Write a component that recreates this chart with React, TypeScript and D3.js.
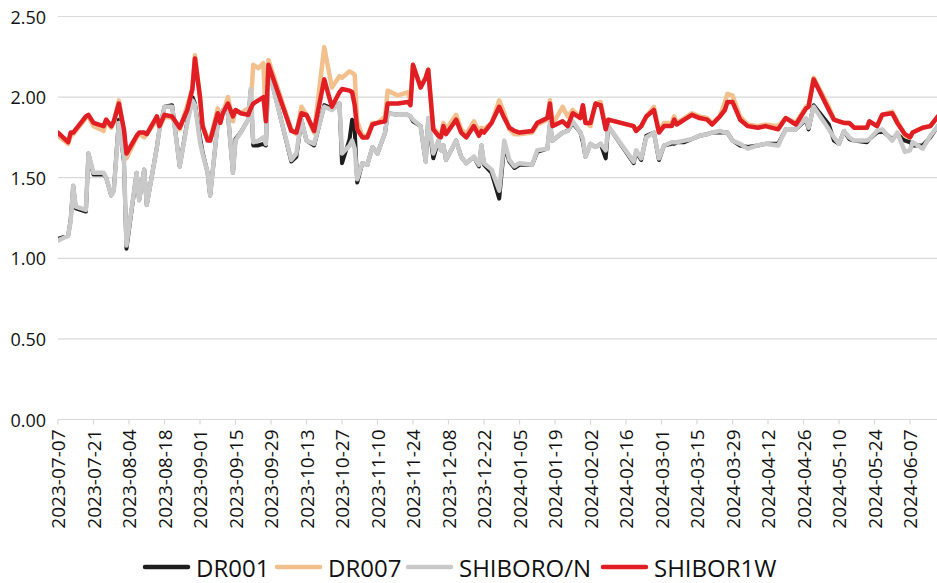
import React from 'react';
import * as d3 from 'd3';

const dates: string[] = [
  "2023-07-07","2023-07-11","2023-07-12","2023-07-13","2023-07-14","2023-07-18","2023-07-19","2023-07-21","2023-07-25","2023-07-26","2023-07-28","2023-07-29","2023-07-31",
  "2023-08-02","2023-08-03","2023-08-07","2023-08-08","2023-08-10","2023-08-11","2023-08-15","2023-08-16","2023-08-18","2023-08-21","2023-08-24","2023-08-27","2023-08-29","2023-08-30",
  "2023-09-01","2023-09-02","2023-09-04","2023-09-05","2023-09-08","2023-09-09","2023-09-10","2023-09-12","2023-09-14","2023-09-15","2023-09-17","2023-09-20","2023-09-21","2023-09-22","2023-09-24","2023-09-26","2023-09-27","2023-09-28",
  "2023-10-07","2023-10-09","2023-10-11","2023-10-13","2023-10-16","2023-10-20","2023-10-23","2023-10-26","2023-10-27","2023-10-30","2023-10-31",
  "2023-11-01","2023-11-02","2023-11-04","2023-11-06","2023-11-08","2023-11-10","2023-11-13","2023-11-14","2023-11-18","2023-11-22","2023-11-23","2023-11-24","2023-11-27","2023-11-29","2023-11-30",
  "2023-12-02","2023-12-04","2023-12-05","2023-12-06","2023-12-07","2023-12-11","2023-12-13","2023-12-15","2023-12-18","2023-12-20","2023-12-21","2023-12-22","2023-12-25","2023-12-28","2023-12-30",
  "2024-01-01","2024-01-03","2024-01-05","2024-01-10","2024-01-12","2024-01-16","2024-01-17","2024-01-18","2024-01-22","2024-01-24","2024-01-26","2024-01-29","2024-01-30","2024-01-31",
  "2024-02-02","2024-02-04","2024-02-06","2024-02-08","2024-02-09","2024-02-19","2024-02-20","2024-02-22","2024-02-24","2024-02-27","2024-02-29",
  "2024-03-02","2024-03-05","2024-03-06","2024-03-07","2024-03-10","2024-03-13","2024-03-16","2024-03-19","2024-03-21","2024-03-24","2024-03-26","2024-03-27","2024-03-29",
  "2024-04-01","2024-04-04","2024-04-08","2024-04-11","2024-04-16","2024-04-19","2024-04-23","2024-04-27","2024-04-28","2024-04-30",
  "2024-05-06","2024-05-08","2024-05-10","2024-05-12","2024-05-14","2024-05-16","2024-05-21","2024-05-22","2024-05-25","2024-05-27","2024-05-31",
  "2024-06-02","2024-06-05","2024-06-07","2024-06-08","2024-06-12","2024-06-15","2024-06-18"
];

const dr001: number[] = [
  1.12,1.14,1.24,1.45,1.31,1.29,1.65,1.52,1.52,1.50,1.39,1.42,1.86,
  1.60,1.06,1.53,1.36,1.55,1.33,1.69,1.80,1.94,1.95,1.57,1.85,2.00,1.96,
  1.75,1.66,1.53,1.39,1.84,1.86,1.92,1.90,1.53,1.74,1.78,1.86,2.04,1.70,1.70,1.71,1.70,2.18,
  1.60,1.63,1.86,1.73,1.70,1.95,1.93,1.96,1.59,1.74,1.86,
  1.80,1.47,1.59,1.58,1.69,1.65,1.78,1.90,1.89,1.89,1.88,1.85,1.82,1.60,1.86,
  1.62,1.73,1.67,1.70,1.61,1.73,1.63,1.59,1.63,1.57,1.70,1.58,1.53,1.37,1.70,
  1.60,1.56,1.58,1.58,1.66,1.68,1.83,1.73,1.78,1.79,1.84,1.78,1.72,1.63,
  1.71,1.69,1.71,1.62,1.82,1.59,1.66,1.61,1.76,1.78,1.61,
  1.70,1.71,1.71,1.72,1.72,1.74,1.76,1.77,1.78,1.78,1.78,1.78,1.73,
  1.70,1.69,1.70,1.71,1.71,1.80,1.80,1.86,1.80,1.95,
  1.83,1.73,1.71,1.79,1.74,1.73,1.72,1.74,1.78,1.79,1.74,
  1.77,1.73,1.72,1.70,1.70,1.75,1.82
];

const dr007: number[] = [
  1.76,1.71,1.76,1.77,1.79,1.87,1.88,1.82,1.79,1.85,1.81,1.84,1.98,
  1.78,1.62,1.75,1.77,1.75,1.77,1.86,1.81,1.88,1.87,1.80,1.95,2.05,2.26,
  2.00,1.83,1.74,1.73,1.93,1.84,1.90,2.00,1.85,1.92,1.90,1.93,1.95,2.20,2.18,2.21,1.85,2.23,
  1.80,1.77,1.94,1.89,1.78,2.31,2.06,2.13,2.12,2.16,2.15,
  2.14,1.85,1.76,1.76,1.84,1.84,1.88,2.04,2.01,2.03,1.98,2.20,2.06,2.12,2.17,
  1.81,1.77,1.77,1.84,1.80,1.89,1.80,1.77,1.85,1.79,1.81,1.80,1.84,1.98,1.90,
  1.80,1.77,1.77,1.78,1.83,1.86,1.98,1.83,1.94,1.88,1.92,1.87,1.95,1.85,
  1.82,1.96,1.97,1.81,1.86,1.82,1.79,1.82,1.88,1.94,1.79,
  1.84,1.84,1.88,1.84,1.87,1.90,1.88,1.87,1.84,1.88,1.97,2.02,2.01,
  1.88,1.83,1.82,1.83,1.82,1.87,1.84,1.94,1.95,2.12,
  1.94,1.86,1.85,1.84,1.84,1.81,1.81,1.85,1.82,1.89,1.91,
  1.85,1.76,1.75,1.78,1.81,1.82,1.88
];

const shiborON: number[] = [
  1.11,1.14,1.23,1.45,1.32,1.30,1.65,1.53,1.53,1.50,1.39,1.42,1.84,
  1.62,1.08,1.53,1.36,1.55,1.33,1.69,1.80,1.94,1.94,1.57,1.84,1.98,1.95,
  1.72,1.65,1.53,1.39,1.84,1.86,1.92,1.90,1.53,1.73,1.78,1.86,2.05,1.72,1.73,1.75,1.71,2.17,
  1.61,1.65,1.86,1.73,1.71,1.94,1.92,1.96,1.65,1.70,1.73,
  1.68,1.49,1.59,1.58,1.69,1.65,1.78,1.90,1.89,1.89,1.88,1.86,1.82,1.60,1.87,
  1.65,1.73,1.67,1.70,1.61,1.73,1.63,1.59,1.63,1.58,1.70,1.59,1.55,1.42,1.73,
  1.61,1.57,1.59,1.58,1.67,1.68,1.84,1.73,1.78,1.79,1.85,1.78,1.74,1.63,
  1.71,1.69,1.71,1.67,1.82,1.60,1.67,1.62,1.75,1.78,1.62,
  1.70,1.72,1.72,1.72,1.73,1.74,1.76,1.77,1.78,1.79,1.78,1.78,1.73,
  1.71,1.68,1.70,1.71,1.70,1.80,1.80,1.87,1.81,1.94,
  1.80,1.75,1.71,1.79,1.75,1.73,1.73,1.74,1.79,1.80,1.73,
  1.78,1.66,1.67,1.72,1.68,1.76,1.82
];

const shibor1W: number[] = [
  1.78,1.72,1.78,1.78,1.80,1.88,1.89,1.84,1.82,1.86,1.82,1.85,1.96,
  1.80,1.65,1.76,1.78,1.78,1.77,1.88,1.82,1.89,1.88,1.81,1.92,2.05,2.24,
  2.00,1.82,1.73,1.73,1.90,1.84,1.90,1.96,1.88,1.92,1.90,1.89,1.93,1.96,1.98,2.00,1.85,2.20,
  1.79,1.78,1.90,1.89,1.79,2.11,1.94,2.03,2.05,2.04,2.03,
  1.95,1.80,1.75,1.75,1.83,1.84,1.85,1.96,1.96,1.97,1.95,2.20,2.06,2.12,2.17,
  1.80,1.76,1.75,1.82,1.77,1.86,1.78,1.75,1.82,1.76,1.79,1.78,1.84,1.94,1.87,
  1.81,1.79,1.78,1.79,1.84,1.87,1.96,1.82,1.85,1.82,1.90,1.87,1.95,1.84,
  1.84,1.96,1.95,1.80,1.86,1.82,1.79,1.82,1.88,1.92,1.78,
  1.82,1.82,1.86,1.83,1.86,1.89,1.87,1.86,1.83,1.88,1.92,1.97,1.97,
  1.86,1.82,1.81,1.82,1.80,1.87,1.83,1.93,1.94,2.11,
  1.92,1.86,1.85,1.84,1.84,1.81,1.81,1.85,1.82,1.89,1.90,
  1.84,1.77,1.75,1.78,1.81,1.82,1.88
];

const seriesNames = ["DR001", "DR007", "SHIBORO/N", "SHIBOR1W"];
const seriesValues = [dr001, dr007, shiborON, shibor1W];
const seriesColors = ["#1e1e1e", "#f1c08c", "#c9c9c9", "#e01e24"];
const yTickValues = [0, 0.5, 1.0, 1.5, 2.0, 2.5];
const xStart = "2023-07-07";
const xEnd = "2024-06-18";
const xTickCount = 25;
const xTickStepDays = 14;

const W = 937, H = 583;
const L = { left: 58, right: 937.9, top: 16.5, bottom: 419.5 };
const legendX = [145, 277, 408, 603];
const FONT = "'Open Sans', 'Segoe UI', sans-serif";

export default function App() {
  const parse = d3.timeParse("%Y-%m-%d");
  const fmt = d3.timeFormat("%Y-%m-%d");
  const parsed = dates.map((d) => parse(d) as Date);
  const x = d3.scaleTime().domain([parse(xStart) as Date, parse(xEnd) as Date]).range([L.left, L.right]);
  const y = d3.scaleLinear().domain([0, 2.5]).range([L.bottom, L.top]);
  const xTicks = d3.range(xTickCount).map((i) => d3.timeDay.offset(parse(xStart) as Date, i * xTickStepDays));
  const line = d3.line<number>().x((_, i) => x(parsed[i])).y((v) => y(v)).curve(d3.curveLinear);

  return (
    <svg width={W} height={H} style={{ position: 'absolute', left: 0, top: 0, background: '#fff' }} fontFamily={FONT}>
      <defs>
        <clipPath id="plot"><rect x={L.left} y={0} width={W - L.left} height={L.bottom + 2} /></clipPath>
      </defs>
      {yTickValues.map((v) => (
        <g key={v}>
          <line x1={L.left} x2={W} y1={y(v)} y2={y(v)} stroke="#d9d9d9" strokeWidth={1.2} />
          <text x={46} y={y(v)} textAnchor="end" dominantBaseline="central" fontSize={18} fill="#111">{v.toFixed(2)}</text>
        </g>
      ))}
      {xTicks.map((t, i) => (
        <g key={i}>
          <line x1={x(t)} x2={x(t)} y1={L.bottom} y2={L.bottom + 5} stroke="#d9d9d9" strokeWidth={1.2} />
          <text transform={`translate(${x(t)},${L.bottom + 10}) rotate(-90)`} textAnchor="end" dominantBaseline="central" fontSize={19} fill="#111">{fmt(t)}</text>
        </g>
      ))}
      <g clipPath="url(#plot)">
        {seriesValues.map((vals, si) => (
          <path key={si} d={line(vals) || ''} fill="none" stroke={seriesColors[si]} strokeWidth={si === 0 ? 4 : 4.5} strokeLinejoin="round" strokeLinecap="round" />
        ))}
      </g>
      {seriesNames.map((name, i) => (
        <g key={name}>
          <line x1={legendX[i]} x2={legendX[i] + 43} y1={567} y2={567} stroke={seriesColors[i]} strokeWidth={4.5} strokeLinecap="round" />
          <text x={legendX[i] + 51} y={567} dominantBaseline="central" fontSize={24} fill="#111">{name}</text>
        </g>
      ))}
    </svg>
  );
}
